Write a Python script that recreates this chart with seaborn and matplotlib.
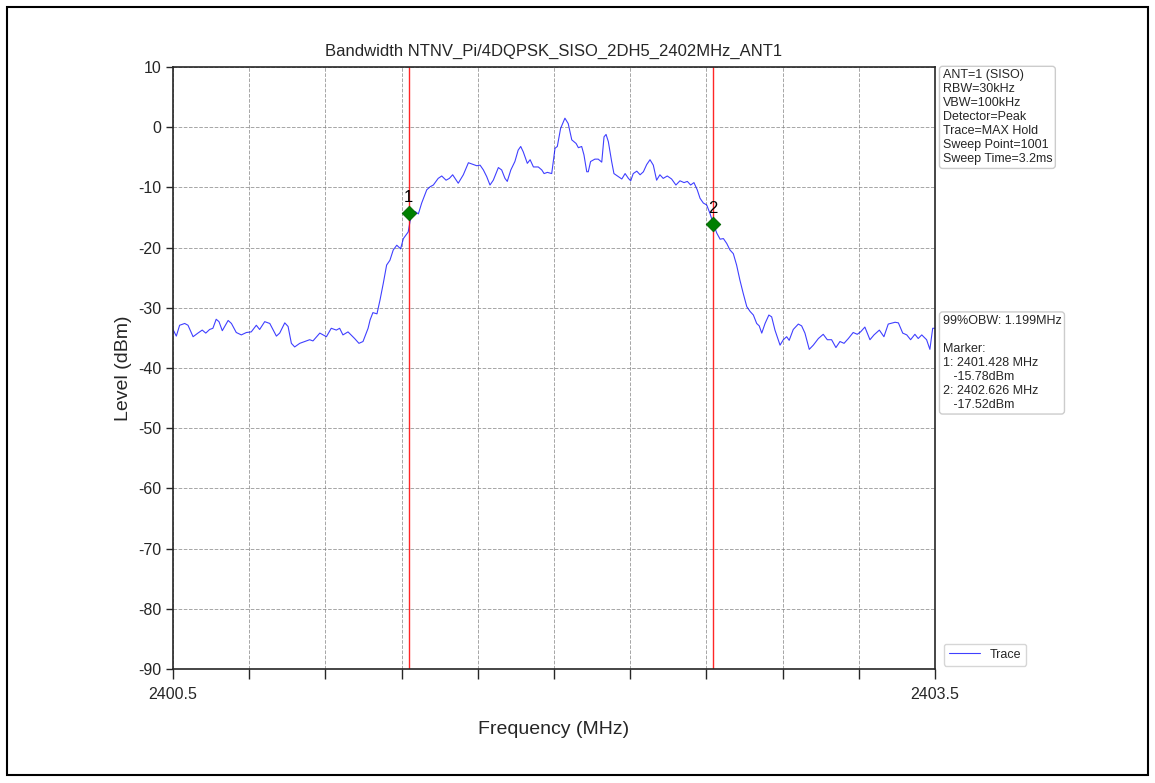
import numpy as np
import pandas as pd
import matplotlib
matplotlib.use("Agg")
import matplotlib.pyplot as plt
import seaborn as sns
from matplotlib.patches import Rectangle

title = "Bandwidth NTNV_Pi/4DQPSK_SISO_2DH5_2402MHz_ANT1"

freq = [
    2400.500, 2400.507, 2400.513, 2400.526, 2400.546, 2400.559, 2400.579, 2400.598, 2400.615, 2400.629,
    2400.644, 2400.657, 2400.670, 2400.681, 2400.694, 2400.717, 2400.730, 2400.749, 2400.769, 2400.789,
    2400.808, 2400.828, 2400.841, 2400.861, 2400.881, 2400.907, 2400.920, 2400.940, 2400.953, 2400.966,
    2400.979, 2400.999, 2401.019, 2401.038, 2401.051, 2401.078, 2401.104, 2401.123, 2401.143, 2401.156,
    2401.169, 2401.189, 2401.215, 2401.232, 2401.248, 2401.268, 2401.276, 2401.287, 2401.303, 2401.315,
    2401.328, 2401.341, 2401.354, 2401.367, 2401.381, 2401.396, 2401.407, 2401.426, 2401.433, 2401.440,
    2401.453, 2401.466, 2401.479, 2401.499, 2401.512, 2401.525, 2401.544, 2401.558, 2401.575, 2401.588,
    2401.601, 2401.623, 2401.643, 2401.663, 2401.676, 2401.696, 2401.709, 2401.722, 2401.735, 2401.748,
    2401.761, 2401.781, 2401.794, 2401.807, 2401.816, 2401.830, 2401.846, 2401.859, 2401.869, 2401.879,
    2401.895, 2401.906, 2401.919, 2401.938, 2401.952, 2401.961, 2401.974, 2401.991, 2402.004, 2402.013,
    2402.026, 2402.043, 2402.056, 2402.070, 2402.087, 2402.096, 2402.109, 2402.118, 2402.129, 2402.135,
    2402.144, 2402.161, 2402.174, 2402.188, 2402.197, 2402.205, 2402.214, 2402.227, 2402.236, 2402.253,
    2402.267, 2402.280, 2402.293, 2402.302, 2402.312, 2402.326, 2402.339, 2402.352, 2402.365, 2402.378,
    2402.391, 2402.404, 2402.417, 2402.430, 2402.446, 2402.463, 2402.480, 2402.496, 2402.512, 2402.525,
    2402.538, 2402.551, 2402.564, 2402.575, 2402.588, 2402.601, 2402.614, 2402.627, 2402.641, 2402.654,
    2402.667, 2402.680, 2402.693, 2402.706, 2402.719, 2402.732, 2402.745, 2402.759, 2402.772, 2402.785,
    2402.798, 2402.808, 2402.818, 2402.831, 2402.846, 2402.857, 2402.870, 2402.890, 2402.903, 2402.916,
    2402.926, 2402.942, 2402.962, 2402.975, 2402.988, 2403.005, 2403.021, 2403.041, 2403.060, 2403.076,
    2403.093, 2403.110, 2403.126, 2403.142, 2403.159, 2403.178, 2403.194, 2403.207, 2403.224, 2403.244,
    2403.260, 2403.281, 2403.299, 2403.316, 2403.343, 2403.356, 2403.373, 2403.389, 2403.404, 2403.421,
    2403.434, 2403.448, 2403.467, 2403.480, 2403.491, 2403.500,
]
level = [
    -33.6, -34.2, -34.7, -32.9, -32.6, -32.9, -34.8, -34.2, -33.7, -34.2,
    -33.6, -33.4, -31.9, -32.3, -33.8, -32.1, -32.6, -34.1, -34.5, -34.1,
    -34.0, -32.9, -33.6, -32.3, -32.6, -34.7, -34.2, -32.5, -33.1, -35.9,
    -36.5, -35.9, -35.6, -35.3, -35.5, -34.2, -34.8, -33.4, -33.7, -33.4,
    -34.5, -34.0, -35.1, -35.9, -35.6, -33.4, -32.0, -30.8, -31.0, -28.7,
    -25.9, -22.9, -22.1, -20.4, -19.6, -20.2, -18.5, -17.4, -15.7, -14.3,
    -14.0, -14.4, -12.6, -10.4, -9.9, -9.6, -8.5, -8.1, -8.8, -8.5,
    -7.9, -9.3, -7.9, -5.9, -6.1, -6.4, -6.3, -7.1, -8.2, -9.6,
    -8.8, -6.7, -7.1, -8.5, -9.0, -7.1, -5.7, -3.8, -3.2, -4.1,
    -6.0, -5.4, -6.6, -6.6, -7.1, -7.7, -7.5, -7.7, -3.5, -3.2,
    -0.2, 1.5, 0.6, -2.1, -2.7, -3.4, -3.2, -4.6, -7.4, -7.4,
    -5.7, -5.3, -5.3, -5.8, -1.6, -1.2, -2.4, -5.7, -7.7, -8.2,
    -8.6, -7.7, -8.5, -8.9, -7.7, -7.3, -7.9, -7.4, -6.2, -5.4,
    -6.3, -8.8, -7.9, -8.5, -8.1, -8.6, -9.6, -8.9, -9.2, -9.0,
    -9.6, -9.2, -10.4, -11.8, -12.6, -12.9, -14.3, -16.0, -17.6, -18.6,
    -18.5, -19.3, -20.4, -21.0, -22.9, -25.4, -27.6, -29.8, -30.6, -31.2,
    -32.6, -33.0, -34.2, -32.6, -31.2, -31.5, -33.7, -36.2, -35.3, -34.8,
    -35.4, -33.6, -32.7, -33.0, -34.2, -36.9, -36.2, -35.1, -34.4, -35.3,
    -35.3, -36.6, -35.6, -35.9, -35.1, -34.1, -34.4, -34.0, -33.2, -35.3,
    -34.5, -33.7, -34.8, -32.7, -32.4, -32.5, -34.2, -34.5, -35.3, -34.4,
    -35.1, -34.5, -35.3, -36.9, -33.4, -33.4,
]

marker_freq = [2401.428, 2402.626]
marker_level = [-14.3, -16.1]
marker_names = ["1", "2"]

info_text = ("ANT=1 (SISO)\nRBW=30kHz\nVBW=100kHz\nDetector=Peak\n"
             "Trace=MAX Hold\nSweep Point=1001\nSweep Time=3.2ms")
obw_text = ("99%OBW: 1.199MHz\n\nMarker:\n1: 2401.428 MHz\n   -15.78dBm\n"
            "2: 2402.626 MHz\n   -17.52dBm")

sns.set_style("ticks")
plt.rcParams["font.family"] = ["Liberation Sans", "DejaVu Sans"]
plt.rcParams["axes.unicode_minus"] = False

fig = plt.figure(figsize=(11.55, 7.83), dpi=100)
ax = fig.add_axes([0.1498, 0.1456, 0.6597, 0.7688])

df = pd.DataFrame({"Frequency": freq, "Level": level})
sns.lineplot(data=df, x="Frequency", y="Level", ax=ax, color="blue",
             linewidth=0.8, label="Trace", alpha=0.75)

for f in marker_freq:
    ax.axvline(f, color="red", linewidth=1.0, alpha=0.85)

sns.scatterplot(x=marker_freq, y=marker_level, ax=ax, marker="D", s=55,
                color="green", edgecolor="darkgreen", zorder=5, legend=False)
for f, lv, n in zip(marker_freq, marker_level, marker_names):
    ax.annotate(n, (f, lv), xytext=(0, 6), textcoords="offset points",
                ha="center", va="bottom", fontsize=12, color="black")

ax.set_xlim(2400.5, 2403.5)
ax.set_ylim(-90, 10)
xt = [2400.5 + 0.3 * i for i in range(11)]
ax.set_xticks(xt)
ax.set_xticklabels(["2400.5"] + [""] * 9 + ["2403.5"])
ax.set_yticks(range(-90, 11, 10))
ax.tick_params(axis="x", length=7, width=1, labelsize=11.5, pad=6)
ax.tick_params(axis="y", length=5, width=1, labelsize=11.5)
ax.grid(True, linestyle="--", color="gray", linewidth=0.7, alpha=0.7)
for s in ax.spines.values():
    s.set_linewidth(1.2)
    s.set_visible(True)

ax.set_title(title, fontsize=12, pad=8)
ax.set_xlabel("Frequency (MHz)", fontsize=14, labelpad=14)
ax.set_ylabel("Level (dBm)", fontsize=14)

box = dict(boxstyle="round,pad=0.25", facecolor="white", edgecolor="#cccccc")
ax.text(1.01, 0.996, info_text, transform=ax.transAxes, fontsize=9,
        va="top", ha="left", bbox=box, linespacing=1.22)
ax.text(1.01, 0.588, obw_text, transform=ax.transAxes, fontsize=9,
        va="top", ha="left", bbox=box, linespacing=1.22)

ax.legend(loc="lower left", bbox_to_anchor=(1.003, -0.005), fontsize=9,
          frameon=True, handlelength=2.5)

fig.patches.append(Rectangle((7 / 1155, 8 / 783), 1141 / 1155, 768 / 783,
                             transform=fig.transFigure, fill=False,
                             edgecolor="black", linewidth=1.5))

fig.savefig("out.png", dpi=100)
